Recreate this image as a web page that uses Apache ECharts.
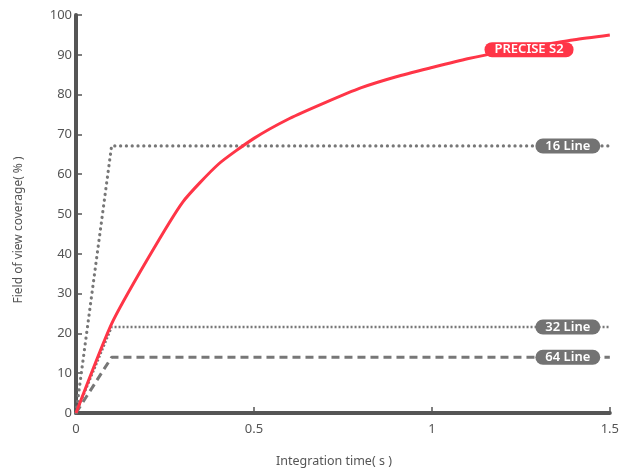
<!DOCTYPE html>
<html><head><meta charset="utf-8">
<script src="https://cdn.jsdelivr.net/npm/echarts@6/dist/echarts.min.js"></script>
<style>html,body{margin:0;padding:0;background:#fff}#c{width:622px;height:475px}</style>
</head><body><div id="c"></div>
<script>
const xTicks = [0, 0.5, 1, 1.5];
const preciseX = [0, 0.1, 0.2, 0.3, 0.4, 0.5, 0.6, 0.7, 0.8, 0.9, 1.0, 1.1, 1.2, 1.3, 1.4, 1.5];
const preciseY = [0, 22.4, 38.5, 53, 62.5, 69, 74, 78, 81.7, 84.5, 86.8, 89, 90.8, 92.3, 93.8, 95];
const lineX = [0, 0.1, 1.5];
const line16 = [0, 67.1, 67.1];
const line32 = [0, 21.6, 21.6];
const line64 = [0, 14, 14];
const labelPos = {precise: [1.273, 91.3], l16: [1.382, 67.1], l32: [1.382, 21.6], l64: [1.382, 14]};
const xTitle = 'Integration time( s )';
const yTitle = 'Field of view coverage( % )';

const font = '"Noto Sans", "Open Sans", sans-serif';
const pair = (xs, ys) => xs.map((x, i) => [x, ys[i]]);
const tag = (name, coord, color) => ({
  symbol: 'rect', symbolSize: 0, silent: true, animation: false,
  data: [{coord: coord, value: name}],
  label: {show: true, position: 'inside', formatter: name, color: '#fff',
    fontFamily: font, fontSize: 13, fontWeight: 600, backgroundColor: color,
    borderRadius: 8, padding: [0, 10, 0, 10], lineHeight: 15, align: 'center'}
});
const chart = echarts.init(document.getElementById('c'), null, {renderer: 'canvas'});
chart.setOption({
  animation: false,
  grid: {left: 76, right: 11, top: 15, bottom: 62},
  graphic: [
    {type: 'text', left: 276, top: 455, style: {text: xTitle, fill: '#555', font: '12.5px ' + font}},
    {type: 'text', x: 19, y: 230, rotation: Math.PI / 2, style: {text: yTitle, fill: '#555', font: '12px ' + font, textAlign: 'center', textVerticalAlign: 'middle'}, originX: 0, originY: 0}
  ],
  xAxis: {type: 'value', min: 0, max: 1.5, interval: 0.5,
    axisLine: {lineStyle: {color: '#555', width: 4}},
    axisTick: {inside: true, length: 6, lineStyle: {color: '#555', width: 1.5}},
    axisLabel: {color: '#555', fontSize: 13, fontFamily: font, margin: 10,
      formatter: v => xTicks.includes(v) ? String(v) : ''},
    splitLine: {show: false}},
  yAxis: {type: 'value', min: 0, max: 100, interval: 10,
    axisLine: {show: true, lineStyle: {color: '#555', width: 4}},
    axisTick: {show: true, inside: true, length: 6, lineStyle: {color: '#555', width: 1.5}},
    axisLabel: {color: '#555', fontSize: 13, fontFamily: font, margin: 4},
    splitLine: {show: false}},
  series: [
    {name: '16 Line', type: 'line', data: pair(lineX, line16), showSymbol: false,
      lineStyle: {color: '#777', width: 3.2, type: [0.1, 5.7], cap: 'round'},
      markPoint: tag('16 Line', labelPos.l16, '#737373')},
    {name: '32 Line', type: 'line', data: pair(lineX, line32), showSymbol: false,
      lineStyle: {color: '#777', width: 2.6, type: [2, 2]},
      markPoint: tag('32 Line', labelPos.l32, '#737373')},
    {name: '64 Line', type: 'line', data: pair(lineX, line64), showSymbol: false,
      lineStyle: {color: '#777', width: 3, type: [8, 5]},
      markPoint: tag('64 Line', labelPos.l64, '#737373')},
    {name: 'PRECISE S2', type: 'line', smooth: 0.2, data: pair(preciseX, preciseY), showSymbol: false,
      lineStyle: {color: '#ff3547', width: 3, join: 'round'},
      markPoint: tag('PRECISE S2', labelPos.precise, '#ff3547')}
  ]
});
</script></body></html>
